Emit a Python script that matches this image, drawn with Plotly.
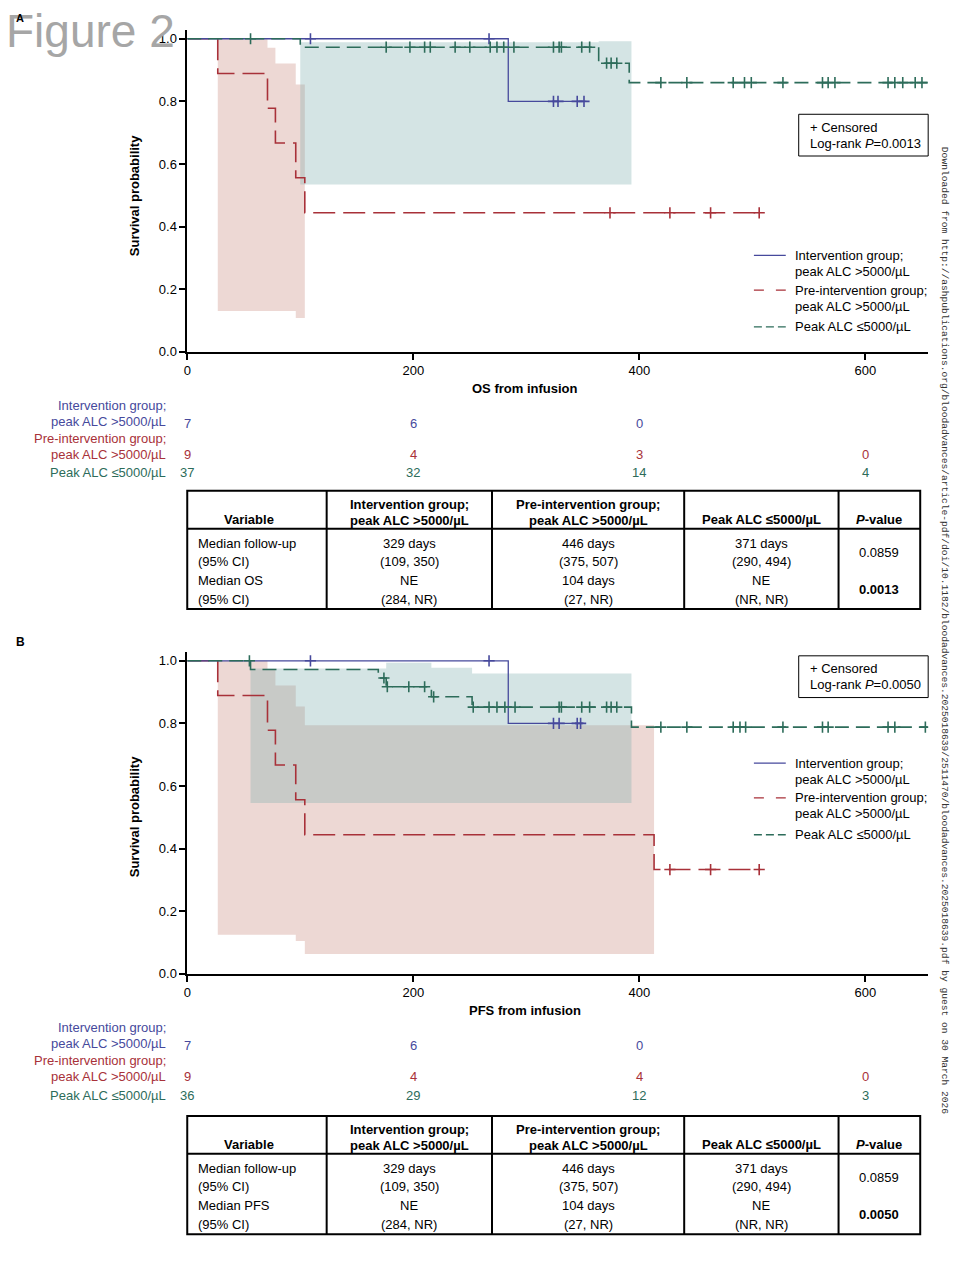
import plotly.graph_objects as go

W, H = 972, 1262
FONT = "Liberation Sans, Arial, sans-serif"
BLUE = "#46499C"
RED = "#A83139"
GREEN = "#2D6C5A"
PINK_FILL = "#EDD8D4"
TEAL_FILL = "rgba(125,173,173,0.33)"

# ---------------- data: panel A (OS) ----------------
os_int_t = [0, 284, 353]
os_int_s = [1.0, 0.8, 0.8]
os_int_c = [109, 267, 324, 328, 345, 351]

os_pre_t = [0, 27, 71, 78, 96, 104, 507]
os_pre_s = [1.0, 0.889, 0.778, 0.667, 0.556, 0.444, 0.444]
os_pre_c = [374, 427, 463, 506]

os_low_t = [0, 100, 364, 391, 655]
os_low_s = [1.0, 0.973, 0.922, 0.860, 0.860]
os_low_c = [56, 176, 197, 210, 215, 237, 250, 268, 274, 280, 289, 324, 329, 331,
            349, 356, 371, 375, 380, 419, 442, 483, 493, 499, 527, 562, 567, 573,
            620, 626, 633, 644, 650]

os_pre_band_t = [27, 71, 78, 96, 104]
os_pre_band_hi = [1.0, 0.971, 0.921, 0.854]
os_pre_band_lo = [0.130, 0.130, 0.130, 0.108]
os_low_band_t = [100, 364, 393]
os_low_band_hi = [0.989, 0.992]
os_low_band_lo = [0.534, 0.534]

# ---------------- data: panel B (PFS) ----------------
pfs_int_t = [0, 284, 351]
pfs_int_s = [1.0, 0.8, 0.8]
pfs_int_c = [109, 267, 324, 329, 345, 348]

pfs_pre_t = [0, 27, 71, 78, 96, 104, 413, 507]
pfs_pre_s = [1.0, 0.889, 0.778, 0.667, 0.556, 0.444, 0.333, 0.333]
pfs_pre_c = [427, 463, 506]

pfs_low_t = [0, 56, 169, 176, 216, 252, 393, 655]
pfs_low_s = [1.0, 0.972, 0.945, 0.917, 0.885, 0.852, 0.788, 0.788]
pfs_low_c = [55, 174, 177, 196, 210, 218, 253, 267, 274, 281, 290, 329, 331, 349,
             356, 371, 375, 380, 419, 442, 483, 489, 494, 527, 562, 567, 620, 626, 653]

pfs_pre_band_t = [27, 71, 78, 96, 104, 413]
pfs_pre_band_hi = [1.0, 0.971, 0.921, 0.854, 0.794]
pfs_pre_band_lo = [0.125, 0.125, 0.125, 0.105, 0.063]
pfs_low_band_t = [56, 176, 216, 252, 393]
pfs_low_band_hi = [0.975, 0.994, 0.978, 0.959]
pfs_low_band_lo = [0.546, 0.546, 0.546, 0.546]

# ---------------- risk tables ----------------
risk_times = [0, 200, 400, 600]
os_risk_int = [7, 6, 0]
os_risk_pre = [9, 4, 3, 0]
os_risk_low = [37, 32, 14, 4]
pfs_risk_int = [7, 6, 0]
pfs_risk_pre = [9, 4, 4, 0]
pfs_risk_low = [36, 29, 12, 3]

x_ticks = [0, 200, 400, 600]
y_ticks = [0.0, 0.2, 0.4, 0.6, 0.8, 1.0]

group_labels = ["Intervention group;", "peak ALC >5000/µL",
                "Pre-intervention group;", "peak ALC >5000/µL", "Peak ALC ≤5000/µL"]

# ---------------- summary tables ----------------
table_headers = [["Variable"],
                 ["Intervention group;", "peak ALC >5000/µL"],
                 ["Pre-intervention group;", "peak ALC >5000/µL"],
                 ["Peak ALC ≤5000/µL"],
                 ["<i>P</i>-value"]]
os_table_col0 = ["Median follow-up", "(95% CI)", "Median OS", "(95% CI)"]
pfs_table_col0 = ["Median follow-up", "(95% CI)", "Median PFS", "(95% CI)"]
table_int = ["329 days", "(109, 350)", "NE", "(284, NR)"]
table_pre = ["446 days", "(375, 507)", "104 days", "(27, NR)"]
table_low = ["371 days", "(290, 494)", "NE", "(NR, NR)"]
os_pvals = ["0.0859", "<b>0.0013</b>"]
pfs_pvals = ["0.0859", "<b>0.0050</b>"]
os_logrank = "0.0013"
pfs_logrank = "0.0050"

watermark = ("Downloaded from http://ashpublications.org/bloodadvances/article-pdf/doi/10.1182/"
             "bloodadvances.2025018639/2511470/bloodadvances.2025018639.pdf by guest on 30 March 2026")


def X(px):
    return px / W


def Y(py):
    return 1 - py / H


def step_at(ts, ss, t):
    v = ss[0]
    for ti, si in zip(ts, ss):
        if ti <= t:
            v = si
    return v


def band_poly(edges, hi, lo):
    xs, ys = [], []
    for i in range(len(hi)):
        xs += [edges[i], edges[i + 1]]
        ys += [hi[i], hi[i]]
    for i in reversed(range(len(lo))):
        xs += [edges[i + 1], edges[i]]
        ys += [lo[i], lo[i]]
    xs.append(xs[0]); ys.append(ys[0])
    return xs, ys


fig = go.Figure()
annotations = []
shapes = []


def txt(x, y, s, size=13, color="black", anchor="center", bold=False, xref="paper", family=FONT, angle=0):
    if bold:
        s = "<b>" + s + "</b>"
    annotations.append(dict(x=x, y=y, xref=xref, yref="paper", text=s, showarrow=False,
                            xanchor=anchor, yanchor="middle", textangle=angle, borderpad=0,
                            font=dict(family=family, size=size, color=color)))


def hline(x0, x1, y, w=2, color="black", dash="solid"):
    shapes.append(dict(type="line", xref="paper", yref="paper", x0=X(x0), x1=X(x1),
                       y0=Y(y), y1=Y(y), line=dict(color=color, width=w, dash=dash)))


def vline(x, y0, y1, w=2):
    shapes.append(dict(type="line", xref="paper", yref="paper", x0=X(x), x1=X(x),
                       y0=Y(y0), y1=Y(y1), line=dict(color="black", width=w)))


def panel(xa, ya, curves, bands, risk, logrank, pos, xtitle, table_col0, pvals):
    xr, yr = xa.replace("axis", ""), ya.replace("axis", "")
    # confidence bands
    for (edges, hi, lo), fc in zip(bands, [PINK_FILL, TEAL_FILL]):
        bx, by = band_poly(edges, hi, lo)
        fig.add_trace(go.Scatter(x=bx, y=by, xaxis=xr, yaxis=yr, mode="lines", fill="toself",
                                 fillcolor=fc, line=dict(width=0), hoverinfo="skip"))
    # curves: order red, blue, green
    for (t, s, c), col, dash, w in curves:
        fig.add_trace(go.Scatter(x=t, y=s, xaxis=xr, yaxis=yr, mode="lines", line_shape="hv",
                                 line=dict(color=col, width=w, dash=dash)))
        fig.add_trace(go.Scatter(x=c, y=[step_at(t, s, ci) for ci in c], xaxis=xr, yaxis=yr,
                                 mode="markers",
                                 marker=dict(symbol="cross-thin", size=8, color=col,
                                             line=dict(color=col, width=1.6))))
    # axis titles
    txt(X(523), Y(pos["xtitle"]), xtitle, bold=True)
    txt(X(131), Y(pos["ytitle"]), "Survival probability", bold=True, angle=-90)
    # log-rank box
    bx0, by0, bx1, by1 = 798, pos["box"], 928, pos["box"] + 42
    shapes.append(dict(type="rect", xref="paper", yref="paper", x0=X(bx0), x1=X(bx1),
                       y0=Y(by0), y1=Y(by1), line=dict(color="black", width=1)))
    txt(X(808), Y(by0 + 13), "+ Censored", anchor="left")
    txt(X(808), Y(by0 + 29), "Log-rank <i>P</i>=" + logrank, anchor="left")
    # legend
    ly = pos["legend"]
    leg = [(BLUE, "solid", [ly, ly + 16], group_labels[0:2]),
           (RED, "10px,12px", [ly + 35, ly + 51], group_labels[2:4]),
           (GREEN, "8px,4px", [ly + 72], group_labels[4:5])]
    for col, dash, ys, labs in leg:
        hline(753, 785, ys[0], w=1.4, color=col, dash=dash)
        for yy, lab in zip(ys, labs):
            txt(X(793), Y(yy), lab, anchor="left")
    # risk table
    ry = pos["risk"]
    lab_cols = [BLUE, BLUE, RED, RED, GREEN]
    lab_ys = [ry, ry + 16, ry + 33, ry + 49, ry + 68]
    for lab, col, yy in zip(group_labels, lab_cols, lab_ys):
        txt(X(164), Y(yy), lab, color=col, anchor="right")
    for vals, col, yy in zip(risk, [BLUE, RED, GREEN], [ry + 18, ry + 49, ry + 68]):
        for t, v in zip(risk_times, vals):
            txt(t, Y(yy), str(v), color=col, xref=xr)
    # summary table
    ty = pos["table"]
    cols = [184, 324, 490, 683, 838, 920]
    top, sep, bot = ty, ty + 38, ty + 119
    shapes.append(dict(type="rect", xref="paper", yref="paper", x0=X(cols[0]), x1=X(cols[-1]),
                       y0=Y(top), y1=Y(bot), line=dict(color="black", width=2)))
    hline(cols[0], cols[-1], sep)
    for cx in cols[1:-1]:
        vline(cx, top, bot)
    centers = [(a + b) / 2 for a, b in zip(cols[:-1], cols[1:])]
    for hdr, cx in zip(table_headers, centers):
        if len(hdr) == 2:
            txt(X(cx), Y(top + 14), hdr[0], bold=True)
            txt(X(cx), Y(top + 30), hdr[1], bold=True)
        else:
            txt(X(cx - (8 if hdr[0] == "Variable" else 0)), Y(top + 29), hdr[0], bold=True)
    row_y = [top + 53, top + 71, top + 90, top + 109]
    for s, yy in zip(table_col0, row_y):
        txt(X(194), Y(yy), s, anchor="left")
    for colvals, cx in zip([table_int, table_pre, table_low], centers[1:4]):
        for s, yy in zip(colvals, row_y):
            txt(X(cx), Y(yy), s)
    txt(X(centers[4]), Y(top + 62), pvals[0])
    txt(X(centers[4]), Y(top + 99), pvals[1])


panel("xaxis", "yaxis",
      [((os_pre_t, os_pre_s, os_pre_c), RED, "22px,8px", 1.6),
       ((os_int_t, os_int_s, os_int_c), BLUE, "solid", 1.3),
       ((os_low_t, os_low_s, os_low_c), GREEN, "14px,7px", 1.6)],
      [(os_pre_band_t, os_pre_band_hi, os_pre_band_lo),
       (os_low_band_t, os_low_band_hi, os_low_band_lo)],
      [os_risk_int, os_risk_pre, os_risk_low], os_logrank,
      dict(xtitle=391, ytitle=197, box=115, legend=257, risk=408, table=494),
      "OS from infusion", os_table_col0, os_pvals)

panel("xaxis2", "yaxis2",
      [((pfs_pre_t, pfs_pre_s, pfs_pre_c), RED, "22px,8px", 1.6),
       ((pfs_int_t, pfs_int_s, pfs_int_c), BLUE, "solid", 1.3),
       ((pfs_low_t, pfs_low_s, pfs_low_c), GREEN, "14px,7px", 1.6)],
      [(pfs_pre_band_t, pfs_pre_band_hi, pfs_pre_band_lo),
       (pfs_low_band_t, pfs_low_band_hi, pfs_low_band_lo)],
      [pfs_risk_int, pfs_risk_pre, pfs_risk_low], pfs_logrank,
      dict(xtitle=1017, ytitle=822, box=660, legend=768, risk=1034, table=1123),
      "PFS from infusion", pfs_table_col0, pfs_pvals)

# Figure title, panel letters, watermark
txt(X(1), Y(31), "Figure 2", size=46, color="#A6A6A6", anchor="left")
txt(X(16), Y(18), "A", size=11, bold=True)
txt(X(17), Y(646), "B", size=12, bold=True)
txt(X(944), Y(634), watermark, size=9.6, color="#333333", family="Liberation Mono, Courier New, monospace", angle=90)

xcommon = dict(range=[0, 655.5], tickvals=x_ticks, ticks="outside", ticklen=6, tickwidth=1.5,
               tickcolor="black", showline=True, linecolor="black", linewidth=1.5,
               showgrid=False, zeroline=False, tickfont=dict(family=FONT, size=13, color="black"),
               fixedrange=True)
ycommon = dict(range=[0, 1.0286], tickvals=y_ticks, tickformat=".1f", ticks="outside", ticklen=6,
               tickwidth=1.5, tickcolor="black", showline=True, linecolor="black", linewidth=1.5,
               showgrid=False, zeroline=False, tickfont=dict(family=FONT, size=13, color="black"),
               fixedrange=True)

fig.update_layout(
    width=W, height=H, margin=dict(l=0, r=0, t=0, b=0),
    paper_bgcolor="white", plot_bgcolor="white", showlegend=False,
    xaxis=dict(domain=[X(184), X(928)], anchor="y", **xcommon),
    yaxis=dict(domain=[Y(354), Y(30)], anchor="x", **ycommon),
    xaxis2=dict(domain=[X(184), X(928)], anchor="y2", **xcommon),
    yaxis2=dict(domain=[Y(980), Y(656)], anchor="x2", **ycommon),
    annotations=annotations, shapes=shapes,
    font=dict(family=FONT, size=13, color="black"),
)

fig.write_html("out.html", config={"displayModeBar": False},
               post_script="document.body.style.margin='0';document.body.style.overflow='hidden';")
